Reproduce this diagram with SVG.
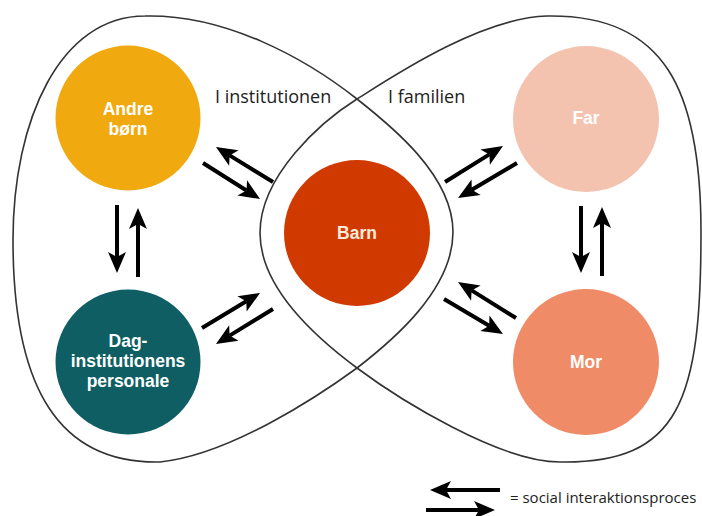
<svg xmlns="http://www.w3.org/2000/svg" width="702" height="516" viewBox="0 0 702 516">
<style>
.outline{fill:none;stroke:#333;stroke-width:1.6}
.arr{fill:none;stroke:#000;stroke-width:4;marker-end:url(#head)}
.lbl{font-family:"Liberation Sans",Arial,sans-serif;font-size:17.5px;font-weight:bold;fill:#fff;text-anchor:middle}
.ctx{font-family:"Open Sans","Noto Sans",sans-serif;font-size:18px;fill:#222}
.leg{font-family:"Open Sans","Noto Sans",sans-serif;font-size:15px;fill:#222}
</style>
<defs>
<marker id="head" viewBox="-6 -10 23 20" markerWidth="23" markerHeight="20" refX="0" refY="0" orient="auto" markerUnits="userSpaceOnUse">
<path d="M16,0 L-5,-9 L0,0 L-5,9 Z" fill="#000"/>
</marker>
</defs>
<rect width="702" height="516" fill="#fff"/>
<g id="outlines">
<path class="outline" d="M145,16 C225,14 305,58 357,99 C390,125 453,175 453,232 C453,290 392,341 357,368 C320,395 230,455 160,462 C60,464 13,390 13,240 C13,120 60,16 145,16 Z"/>
<path class="outline" d="M547,16 C665,14 701,90 701,232 C701,400 680,464 560,462 C500,462 400,400 357,368 C322,342 260,290 260,233 C260,175 322,121 357,99 C392,77 480,18 547,16 Z"/>
</g>
<text class="ctx" x="215" y="103">I institutionen</text>
<text class="ctx" x="388" y="103">I familien</text>
<g id="node-andre">
<circle cx="128" cy="118" r="72.5" fill="#F0A90F"/>
<text class="lbl" x="128" y="115">Andre</text>
<text class="lbl" x="128" y="135">børn</text>
</g>
<g id="node-dag">
<circle cx="128" cy="362" r="72.5" fill="#0E5E63"/>
<text class="lbl" x="128" y="347">Dag-</text>
<text class="lbl" x="128" y="367">institutionens</text>
<text class="lbl" x="128" y="387">personale</text>
</g>
<g id="node-barn">
<circle cx="357" cy="233" r="73" fill="#D03A00"/>
<text class="lbl" x="357" y="239" style="fill:#FBEBDD">Barn</text>
</g>
<g id="node-far">
<circle cx="586" cy="119" r="73" fill="#F4C3B0"/>
<text class="lbl" x="586" y="124">Far</text>
</g>
<g id="node-mor">
<circle cx="586" cy="362" r="73" fill="#EF8B66"/>
<text class="lbl" x="586" y="368">Mor</text>
</g>
<g id="connectors">
<line class="arr" x1="273" y1="182" x2="229.6" y2="155.4"/>
<line class="arr" x1="203" y1="163" x2="246.5" y2="190.5"/>
<line class="arr" x1="202" y1="328" x2="246.3" y2="301.3"/>
<line class="arr" x1="273" y1="309" x2="229.6" y2="335.6"/>
<line class="arr" x1="445" y1="182" x2="489.4" y2="154.4"/>
<line class="arr" x1="517" y1="163" x2="471.8" y2="189.8"/>
<line class="arr" x1="516" y1="318" x2="471.6" y2="290.4"/>
<line class="arr" x1="444" y1="299" x2="489.2" y2="325.8"/>
<line class="arr" x1="117" y1="205" x2="117" y2="257"/>
<line class="arr" x1="138" y1="277" x2="138" y2="224"/>
<line class="arr" x1="581" y1="206" x2="581" y2="257"/>
<line class="arr" x1="602" y1="276" x2="602" y2="223"/>
</g>
<g id="legend">
<line class="arr" x1="500" y1="490" x2="446" y2="490"/>
<line class="arr" x1="426" y1="510" x2="479" y2="510"/>
<text class="leg" x="510" y="503">= social interaktionsproces</text>
</g>
</svg>
